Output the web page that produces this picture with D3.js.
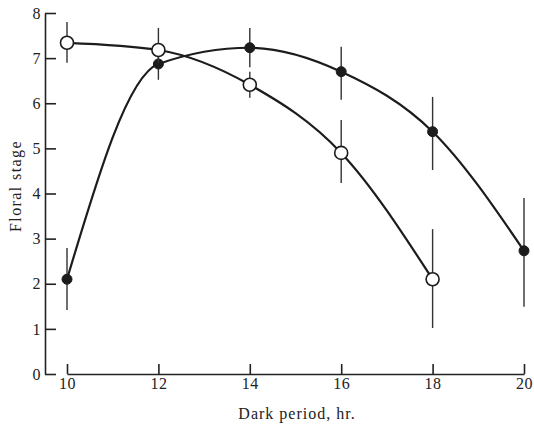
<!DOCTYPE html>
<html>
<head>
<meta charset="utf-8">
<script src="https://cdn.jsdelivr.net/npm/d3@7"></script>
<style>
  body { margin:0; background:#fff; }
  svg { display:block; }
  .axis text { font-family:"Liberation Serif","DejaVu Serif",serif; font-size:16px; fill:#222; letter-spacing:0.5px; }
  .axis path, .axis line { stroke:#222; stroke-width:1.6; }
</style>
</head>
<body>
<div id="chart"></div>
<script>
// data
const HOURS_FILLED = [10, 12, 14, 16, 18, 20];
const STAGE_FILLED = [2.1, 6.87, 7.23, 6.7, 5.37, 2.73];
const ERR_LO_FILLED = [1.42, 6.52, 6.8, 6.08, 4.52, 1.49];
const ERR_HI_FILLED = [2.79, 7.2, 7.67, 7.25, 6.14, 3.9];

const HOURS_OPEN = [10, 12, 14, 16, 18];
const STAGE_OPEN = [7.34, 7.18, 6.41, 4.9, 2.1];
const ERR_LO_OPEN = [6.9, 6.9, 6.12, 4.23, 1.02];
const ERR_HI_OPEN = [7.8, 7.67, 6.7, 5.63, 3.21];

const X_TICKS = [10, 12, 14, 16, 18, 20];
const Y_TICKS = [0, 1, 2, 3, 4, 5, 6, 7, 8];

const W = 534, H = 427;
const INK = "#1c1c1c";

const svg = d3.select("#chart").append("svg").attr("width", W).attr("height", H);

const x = d3.scaleLinear().domain([10, 20]).range([67, 524]);
const y = d3.scaleLinear().domain([0, 8]).range([374, 13]);

// axes
svg.append("g").attr("class", "axis")
  .attr("transform", "translate(45,0)")
  .call(d3.axisLeft(y).tickValues(Y_TICKS).tickFormat(d3.format("d"))
    .tickSizeInner(-11).tickSizeOuter(0).tickPadding(4));

svg.append("g").attr("class", "axis")
  .attr("transform", "translate(0,374)")
  .call(d3.axisBottom(x).tickValues(X_TICKS).tickFormat(d3.format("d"))
    .tickSizeInner(-10).tickSizeOuter(0).tickPadding(4));

// titles
svg.append("text")
  .attr("x", 297).attr("y", 419).attr("text-anchor", "middle")
  .attr("font-family", "'Liberation Serif',serif").attr("font-size", 16).attr("fill", "#222")
  .attr("letter-spacing", 1)
  .text("Dark period,  hr.");

svg.append("text")
  .attr("transform", "translate(21,186) rotate(-90)").attr("text-anchor", "middle")
  .attr("font-family", "'Liberation Serif',serif").attr("font-size", 16).attr("fill", "#222")
  .attr("letter-spacing", 1.4)
  .text("Floral stage");

function series(hours, stage, lo, hi, filled) {
  const pts = hours.map((h, i) => ({h, v: stage[i], lo: lo[i], hi: hi[i]}));
  const g = svg.append("g");

  g.selectAll("line.err").data(pts).join("line")
    .attr("x1", d => x(d.h)).attr("x2", d => x(d.h))
    .attr("y1", d => y(d.lo)).attr("y2", d => y(d.hi))
    .attr("stroke", "#333").attr("stroke-width", 1.4);

  const line = d3.line().x(d => x(d.h)).y(d => y(d.v)).curve(d3.curveMonotoneX);
  g.append("path").datum(pts)
    .attr("d", line).attr("fill", "none")
    .attr("stroke", INK).attr("stroke-width", 2.2);

  g.selectAll("circle").data(pts).join("circle")
    .attr("cx", d => x(d.h)).attr("cy", d => y(d.v))
    .attr("r", filled ? 5 : 6.5)
    .attr("fill", filled ? INK : "#fff")
    .attr("stroke", INK).attr("stroke-width", filled ? 1 : 1.6);
}

series(HOURS_FILLED, STAGE_FILLED, ERR_LO_FILLED, ERR_HI_FILLED, true);
series(HOURS_OPEN, STAGE_OPEN, ERR_LO_OPEN, ERR_HI_OPEN, false);
</script>
</body>
</html>
